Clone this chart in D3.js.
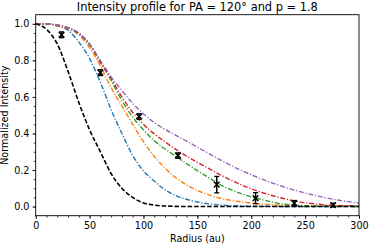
<!DOCTYPE html>
<html>
<head>
<meta charset="utf-8">
<script src="https://cdn.jsdelivr.net/npm/d3@7"></script>
<style>
  html, body { margin: 0; padding: 0; background: #fff; }
  text { font-family: "DejaVu Sans", sans-serif; fill: #000; }
</style>
</head>
<body>
<div id="chart"></div>
<script>
  // model radii (au)
  var radius = [0, 10, 20, 30, 40, 50, 60, 70, 80, 90, 100, 110, 120, 130, 140, 150,
                160, 170, 180, 190, 200, 210, 220, 230, 240, 250, 260, 270, 280, 290, 300];

  var beam   = [1, .97, .89, .74, .57, .42, .30, .18, .10, .05, .02, .008, .003, .001, 0, 0,
                0, 0, 0, 0, 0, 0, 0, 0, 0, 0, 0, 0, 0, 0, 0];
  var modelA = [1, 1, .99, .965, .90, .81, .68, .53, .40, .28, .195, .14, .092, .06, .04, .025,
                .015, .009, .005, .003, .002, .001, .001, 0, 0, 0, 0, 0, 0, 0, 0];
  var modelB = [1, 1, .99, .975, .94, .87, .77, .65, .55, .45, .355, .275, .21, .158, .118, .088,
                .065, .047, .035, .026, .019, .013, .009, .006, .004, .003, .002, .002, .001, .001, .001];
  var modelC = [1, 1, .99, .977, .945, .885, .79, .69, .58, .49, .42, .36, .315, .275, .235, .197,
                .16, .124, .095, .072, .053, .038, .024, .013, .008, .005, .003, .002, .001, .001, 0];
  var modelD = [1, 1, .99, .978, .948, .89, .79, .70, .60, .515, .45, .398, .354, .313, .276, .242,
                .21, .178, .148, .121, .097, .077, .059, .044, .031, .021, .014, .009, .006, .005, .004];
  var modelE = [1, 1, .995, .98, .95, .89, .80, .71, .635, .565, .507, .46, .422, .39, .358, .325,
                .292, .26, .229, .20, .174, .15, .128, .108, .09, .074, .06, .047, .036, .027, .019];

  var models = [modelA, modelB, modelC, modelD, modelE];
  var modelColors = ["#1f77b4", "#ff7f0e", "#2ca02c", "#d62728", "#9467bd"];

  // measured profile
  var obsRadius = [24, 60, 96, 132, 168, 204, 240, 276];
  var obsValue  = [0.94, 0.733, 0.493, 0.279, 0.12, 0.046, 0.018, 0.008];
  var obsError  = [0.016, 0.016, 0.015, 0.015, 0.045, 0.03, 0.015, 0.01];

  var xTicks = [0, 50, 100, 150, 200, 250, 300];
  var yTicks = [0, 0.2, 0.4, 0.6, 0.8, 1.0];

  var width = 369, height = 245;
  var margin = {top: 14.7, right: 10, bottom: 29.3, left: 35.7};
  var w = width - margin.left - margin.right,
      h = height - margin.top - margin.bottom;

  var svg = d3.select("#chart").append("svg")
              .attr("width", width)
              .attr("height", height);

  var x = d3.scaleLinear().domain([0, 300]).range([0, w]);
  var y = d3.scaleLinear().domain([-0.05, 1.05]).range([h, 0]);

  var g = svg.append("g").attr("transform", "translate(" + margin.left + "," + margin.top + ")");

  g.append("defs").append("clipPath").attr("id", "clip")
    .append("rect").attr("width", w).attr("height", h);

  var plot = g.append("g").attr("clip-path", "url(#clip)");

  var line = d3.line()
               .x((d, i) => x(radius[i]))
               .y(d => y(d))
               .curve(d3.curveMonotoneX);

  models.forEach(function(m, k){
    plot.append("path")
      .attr("d", line(m))
      .attr("fill", "none")
      .attr("stroke", modelColors[k])
      .attr("stroke-width", 1.4)
      .attr("stroke-dasharray", "5,1.8,1.2,1.8");
  });

  plot.append("path")
    .attr("d", line(beam))
    .attr("fill", "none")
    .attr("stroke", "#000")
    .attr("stroke-width", 1.6)
    .attr("stroke-dasharray", "4.5,2");

  // error bars + x markers
  var pts = g.selectAll(".pt")
             .data(obsValue)
             .enter().append("g")
             .attr("class", "pt")
             .attr("transform", (d, i) => "translate(" + x(obsRadius[i]) + "," + y(d) + ")");

  pts.append("line")
    .attr("y1", (d, i) => y(d - obsError[i]) - y(d))
    .attr("y2", (d, i) => y(d + obsError[i]) - y(d))
    .attr("stroke", "#000").attr("stroke-width", 1.5);
  pts.append("line")
    .attr("x1", -2.5).attr("x2", 2.5)
    .attr("y1", (d, i) => y(d - obsError[i]) - y(d))
    .attr("y2", (d, i) => y(d - obsError[i]) - y(d))
    .attr("stroke", "#000").attr("stroke-width", 1.3);
  pts.append("line")
    .attr("x1", -2.5).attr("x2", 2.5)
    .attr("y1", (d, i) => y(d + obsError[i]) - y(d))
    .attr("y2", (d, i) => y(d + obsError[i]) - y(d))
    .attr("stroke", "#000").attr("stroke-width", 1.3);
  pts.append("path")
    .attr("d", "M-2.8,-2.8L2.8,2.8M-2.8,2.8L2.8,-2.8")
    .attr("stroke", "#000").attr("stroke-width", 1.5);

  // axes
  g.append("g").attr("transform", "translate(0," + h + ")")
   .call(d3.axisBottom(x).tickValues(xTicks).tickFormat(d3.format("d"))
           .tickSize(3.3).tickPadding(3));
  g.append("g").attr("transform", "translate(0," + h + ")")
   .call(d3.axisBottom(x).tickValues(d3.range(0, 301, 10)).tickFormat("").tickSize(1.9));

  g.append("g")
   .call(d3.axisLeft(y).tickValues(yTicks).tickFormat(d3.format(".1f"))
           .tickSize(3.3).tickPadding(3));
  g.append("g")
   .call(d3.axisLeft(y).tickValues(d3.range(0, 21).map(d => d * 0.05)).tickFormat("").tickSize(1.9));

  g.selectAll(".domain").remove();
  g.selectAll(".tick line").attr("stroke", "#000").attr("stroke-width", 0.8);
  g.selectAll(".tick text").attr("font-size", "9.6px").attr("font-family", "DejaVu Sans");

  g.append("rect")
    .attr("width", w).attr("height", h)
    .attr("fill", "none").attr("stroke", "#000").attr("stroke-width", 0.9);

  // labels
  svg.append("text")
    .attr("x", margin.left + w / 2).attr("y", 11.2)
    .attr("text-anchor", "middle").attr("font-size", "11.4px")
    .text("Intensity profile for PA = 120° and p = 1.8");

  svg.append("text")
    .attr("x", margin.left + w / 2).attr("y", 241.5)
    .attr("text-anchor", "middle").attr("font-size", "9.6px")
    .text("Radius (au)");

  svg.append("text")
    .attr("transform", "translate(8," + (margin.top + h / 2) + ") rotate(-90)")
    .attr("text-anchor", "middle").attr("font-size", "9.6px")
    .text("Normalized Intensity");
</script>
</body>
</html>
